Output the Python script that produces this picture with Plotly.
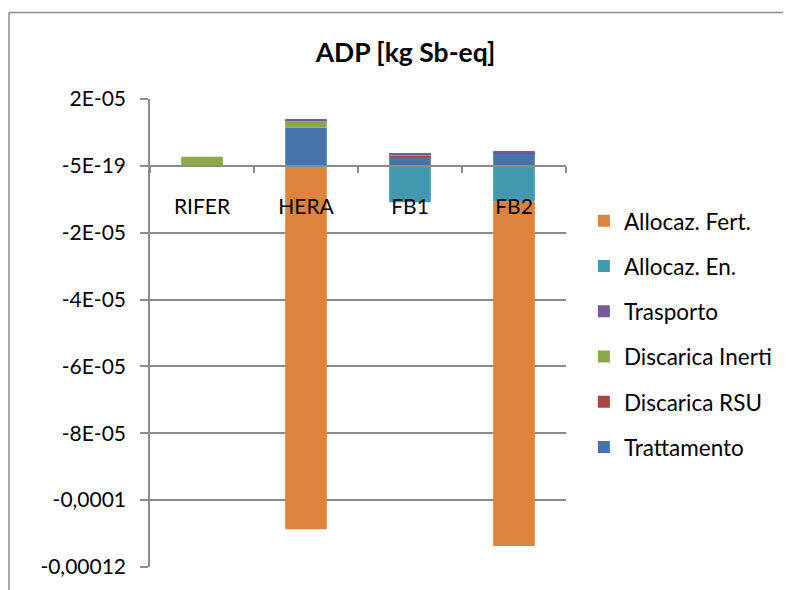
import plotly.graph_objects as go

categories = ["RIFER", "HERA", "FB1", "FB2"]

# stacked components, kg Sb-eq
trattamento = [0, 1.15e-05, 2.8e-06, 3.8e-06]
discarica_rsu = [0, 0, 3e-07, 2e-07]
discarica_inerti = [2.7e-06, 2.2e-06, 4e-07, 1e-07]
trasporto = [0, 3e-07, 1e-07, 3e-07]
allocaz_en = [0, 0, -1.09e-05, -1.07e-05]
allocaz_fert = [0, -1.087e-04, 0, -1.03e-04]

tick_vals = [2e-05, 0, -2e-05, -4e-05, -6e-05, -8e-05, -1e-04, -1.2e-04]
tick_text = ["2E-05", "-5E-19", "-2E-05", "-4E-05", "-6E-05", "-8E-05", "-0,0001", "-0,00012"]
y_min, y_max = -1.2e-04, 2e-05

series = [
    ("Trattamento", trattamento, "#4674AA"),
    ("Discarica RSU", discarica_rsu, "#AC4441"),
    ("Discarica Inerti", discarica_inerti, "#8BA84D"),
    ("Trasporto", trasporto, "#76589B"),
    ("Allocaz. En.", allocaz_en, "#4399B0"),
    ("Allocaz. Fert.", allocaz_fert, "#DC843D"),
]

FONT = "Lato"
GRID = "#8c8c8c"

fig = go.Figure()
for i, (name, vals, col) in enumerate(series):
    fig.add_trace(go.Bar(x=categories, y=vals, name=name, marker_color=col,
                         marker_line_width=0, legendgroup=name,
                         legendrank=len(series) - i))

# page has an 8px body margin, so the figure is 8px smaller each way
fig.update_layout(
    width=783, height=582,
    margin=dict(l=142, r=225, t=91, b=20),
    paper_bgcolor="white", plot_bgcolor="white",
    barmode="relative", bargap=0.6,
    font=dict(family=FONT, size=21, color="black"),
    title=dict(text="<b>ADP [kg Sb-eq]</b>", x=0.5077, xanchor="center",
               y=0.9235, yanchor="middle", font=dict(family=FONT, size=26.5)),
    legend=dict(x=1.043, xanchor="left", y=0.785, yanchor="top",
                traceorder="grouped", tracegroupgap=13,
                font=dict(family=FONT, size=22.5)),
    showlegend=True,
)

fig.update_yaxes(range=[y_min, y_max], tickvals=tick_vals, ticktext=tick_text,
                 showgrid=True, gridcolor=GRID, gridwidth=1.5,
                 showline=True, linecolor=GRID, linewidth=1.5,
                 ticks="outside", ticklen=8, tickcolor=GRID, tickwidth=1.5,
                 ticklabelstandoff=10, zeroline=False)

fig.update_xaxes(anchor="free", position=(0 - y_min) / (y_max - y_min),
                 showline=True, linecolor=GRID, linewidth=1.5,
                 ticks="outside", tickson="boundaries", ticklen=6,
                 tickcolor=GRID, tickwidth=1.5, ticklabelstandoff=22,
                 showgrid=False, zeroline=False)

# chart area border (cropped on right and bottom)
fig.add_shape(type="line", xref="paper", yref="paper", x0=-0.339, x1=2, y0=1.1847, y1=1.1847,
              line=dict(color=GRID, width=1.5))
fig.add_shape(type="line", xref="paper", yref="paper", x0=-0.339, x1=-0.339, y0=1.1847, y1=-0.2,
              line=dict(color=GRID, width=1.5))

fig.write_html("out.html")
